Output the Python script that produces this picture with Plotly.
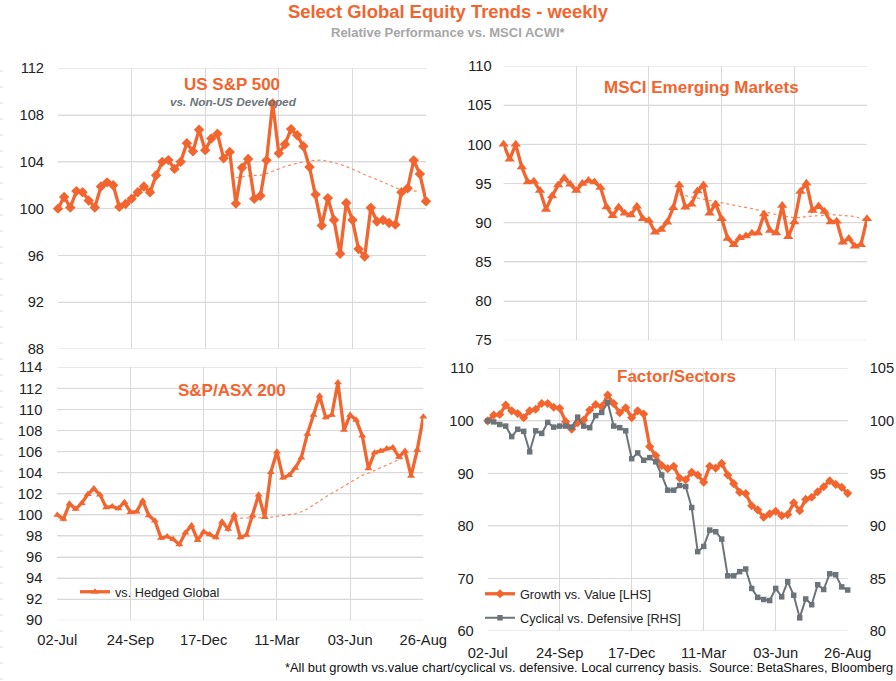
import pandas as pd
import plotly.graph_objects as go

ORANGE = '#F2652F'
GREY = '#6C747A'
GRID = '#D9D9D9'
FONT = 'Liberation Sans'
W, H = 896, 681

weeks = pd.date_range('2018-07-02', periods=61, freq='7D')
tick_weeks = weeks[::12]

sp500 = [100.0,101.0,100.1,101.5,101.4,100.7,100.1,101.9,102.25,102.0,100.15,100.4,100.85,101.4,101.9,101.4,
         102.85,104.0,104.15,103.4,104.0,105.6,104.9,106.75,105.0,106.0,106.4,104.3,104.85,100.43,103.5,104.25,
         100.85,101.1,104.13,109.0,104.73,105.5,106.8,106.27,105.33,103.56,101.2,98.55,100.9,99.03,96.15,100.48,
         99.03,96.55,95.9,100.08,98.9,99.03,98.77,98.63,101.4,101.74,104.13,102.96,100.63]
sp500_avg = [None]*29 + [102.65,102.75,102.8,102.85,102.85,103.0,103.2,103.45,103.6,103.75,103.9,104.0,104.1,104.15,
             104.15,104.05,103.95,103.8,103.6,103.4,103.15,102.9,102.7,102.5,102.3,102.05,101.8,101.6,101.55,101.5,101.55,None]

em = [100.0,98.1,100.0,97.1,95.2,95.3,94.1,91.7,93.4,94.8,95.7,94.9,94.1,95.0,95.4,95.2,94.5,92.0,90.9,92.0,91.2,
      91.0,92.1,90.5,90.3,88.8,89.15,90.05,91.9,94.8,91.97,92.35,94.05,94.8,91.2,92.4,90.5,88.0,87.2,88.1,88.3,88.65,
      88.7,91.1,89.0,88.7,92.2,88.2,90.1,94.0,95.05,91.55,92.15,91.45,90.1,90.2,87.5,88.0,87.0,87.2,90.5]
em_avg = [None]*29 + [93.6,93.45,93.3,93.1,92.95,92.85,92.7,92.55,92.4,92.3,92.15,92.0,91.8,91.6,91.4,91.2,91.05,90.9,
          90.75,90.65,90.65,90.8,90.85,90.9,91.0,91.0,91.0,90.95,90.9,90.8,90.55,90.35]

asx = [100.0,99.6,101.05,100.55,101.1,101.95,102.5,101.9,100.7,100.8,100.6,101.2,100.25,100.3,101.35,99.95,99.45,97.8,
       97.95,97.7,97.2,98.3,99.0,97.6,98.4,98.15,97.85,99.36,98.66,100.0,97.85,98.1,99.93,101.9,99.77,104.04,106.0,103.53,
       103.75,104.45,105.43,107.68,109.48,111.3,109.23,109.48,112.55,108.05,109.48,109.0,107.5,104.4,105.9,106.06,106.3,
       106.4,105.5,106.06,103.7,106.15,109.3]
asx_avg = [None]*29 + [99.68,99.68,99.7,99.7,99.72,99.74,99.78,99.85,99.95,100.0,100.1,100.3,100.55,100.95,101.35,101.7,
           102.05,102.4,102.75,103.1,103.45,103.75,103.95,104.2,104.5,104.75,105.0,105.25,105.5,None,None,None]

growth = [100.0,101.1,101.2,103.0,101.9,101.4,100.6,101.9,102.2,103.3,103.3,102.6,102.4,99.85,98.4,99.65,100.15,102.05,
          103.1,102.7,104.9,103.3,101.55,102.5,100.6,101.9,101.3,95.1,93.4,91.5,90.9,91.35,89.1,88.8,90.2,89.7,88.3,91.35,
          91.0,91.9,89.7,88.05,86.4,86.15,83.85,83.05,81.65,82.3,82.8,81.95,82.15,84.4,82.9,85.05,85.45,86.5,87.45,88.6,
          87.9,87.35,86.2]
cyclical = [100.0,99.9,99.65,99.5,98.5,99.2,99.0,97.05,99.05,98.8,99.85,99.4,99.5,99.5,99.4,100.35,99.5,99.35,100.5,100.8,
            101.75,99.5,99.35,99.05,96.4,96.95,96.25,96.5,96.1,94.85,93.4,93.4,93.85,93.75,91.75,87.55,88.05,89.6,89.45,
            88.75,85.25,85.25,85.65,85.9,84.05,83.2,83.0,82.9,84.05,83.25,84.7,83.4,81.25,83.05,82.5,84.4,83.95,85.45,
            85.35,84.2,83.9]

# plot boxes in page pixels: left, right, top, bottom
boxes = {'': (58, 426, 68.3, 349), '2': (503.6, 867, 66, 340.3),
         '3': (57.3, 423.3, 367.3, 620.3), '4': (487.7, 847.7, 368.3, 631)}
# y range and step per panel
y_scales = {'': (88, 112, 4), '2': (75, 110, 5), '3': (90, 114, 2), '4': (60, 110, 10)}
x_ticklen = {'': 6, '2': 6, '3': 6, '4': 8}
y_ticklen = {'': 10, '2': 8, '3': 11, '4': 10}


def xdom(b):
    return [b[0]/W, b[1]/W]


def ydom(b):
    return [1-b[3]/H, 1-b[2]/H]


def main_line(x, y, sym, ms, xa, ya, name=None, color=ORANGE, lw=3.3, legend=None):
    return go.Scatter(x=x, y=y, mode='lines+markers', name=name, xaxis=xa, yaxis=ya, cliponaxis=False,
                      line=dict(color=color, width=lw), marker=dict(symbol=sym, size=ms, color=color),
                      showlegend=legend is not None, legend=legend)


def avg_line(x, y, xa, ya):
    return go.Scatter(x=x, y=y, mode='lines', xaxis=xa, yaxis=ya, showlegend=False,
                      line=dict(color='#F58B63', width=1.2, dash='3px,3px'))


fig = go.Figure()
fig.add_trace(avg_line(weeks, sp500_avg, 'x', 'y'))
fig.add_trace(main_line(weeks, sp500, 'diamond', 8, 'x', 'y'))
fig.add_trace(avg_line(weeks, em_avg, 'x2', 'y2'))
fig.add_trace(main_line(weeks, em, 'triangle-up', 9, 'x2', 'y2'))
fig.add_trace(avg_line(weeks, asx_avg, 'x3', 'y3'))
fig.add_trace(main_line(weeks, asx, 'triangle-up', 7, 'x3', 'y3', name='vs. Hedged Global', legend='legend'))
fig.add_trace(main_line(weeks, growth, 'diamond', 7, 'x4', 'y4', name='Growth vs. Value [LHS]', legend='legend2'))
fig.add_trace(main_line(weeks, cyclical, 'square', 5.5, 'x4', 'y5', name='Cyclical vs. Defensive [RHS]', color=GREY,
                        lw=2, legend='legend3'))

clear = 'rgba(0,0,0,0)'
tick_font = dict(family=FONT, size=14.7, color='#222222')
axis = dict(showgrid=True, gridcolor=GRID, gridwidth=1, showline=False, zeroline=False, tickfont=tick_font,
            ticks='outside', tickcolor=clear)

for key, b in boxes.items():
    labelled = key in ('3', '4')
    lo, hi, step = y_scales[key]
    fig.update_layout({'xaxis'+key: dict(axis, domain=xdom(b), anchor='y'+key, type='date',
                                         range=[weeks[0], weeks[-1]], tickmode='array', tickvals=tick_weeks,
                                         ticktext=[d.strftime('%d-%b') for d in tick_weeks],
                                         showticklabels=labelled, ticklen=x_ticklen[key]),
                       'yaxis'+key: dict(axis, domain=ydom(b), anchor='x'+key, range=[lo, hi], dtick=step,
                                         ticklen=y_ticklen[key])})
    # horizontal rules, placed through each panel's own y axis
    for v in range(lo, hi+1, step):
        fig.add_shape(type='line', xref='x%s domain' % key, yref='y'+key, x0=0, x1=1, y0=v, y1=v,
                      line=dict(color=GRID, width=1), layer='below')

fig.update_layout(
    yaxis5=dict(axis, overlaying='y4', side='right', anchor='x4', range=[80, 105], dtick=5, showgrid=False,
                ticklen=18),
)


def label(text, x, y, size, color=ORANGE, bold=True, italic=False):
    if bold:
        text = '<b>%s</b>' % text
    if italic:
        text = '<i>%s</i>' % text
    fig.add_annotation(text=text, x=x/W, y=1-y/H, xref='paper', yref='paper', showarrow=False,
                       font=dict(family=FONT, size=size, color=color), xanchor='center', yanchor='middle')


label('Select Global Equity Trends - weekly', 448, 11, 18.4)
label('Relative Performance vs. MSCI ACWI*', 448, 32, 13, color='#A6A6A6')
label('US S&amp;P 500', 232, 85, 17)
label('vs. Non-US Developed', 233, 102, 11.8, color=GREY, italic=True)
label('MSCI Emerging Markets', 701, 87, 17)
label('S&amp;P/ASX 200', 232, 390, 17)
label('Factor/Sectors', 676, 376, 17)
label('*All but growth vs.value chart/cyclical vs. defensive. Local currency basis.  Source: BetaShares, Bloomberg',
      589, 667, 12.85, color='#111111', bold=False)

# faint ruler marks down the left edge of the page
for k in range(39):
    yp = 1-(71+16*k)/H
    fig.add_shape(type='line', xref='paper', yref='paper', x0=0, x1=3/W, y0=yp, y1=yp,
                  line=dict(color=GRID, width=1), layer='below')

legend_font = dict(family=FONT, size=12.7, color='#222222')
fig.update_layout(
    width=W, height=H, margin=dict(l=0, r=0, t=0, b=0, autoexpand=False), plot_bgcolor='white',
    paper_bgcolor='white',
    legend=dict(x=75/W, y=1-592/H, xanchor='left', yanchor='middle', font=legend_font, bgcolor=clear, itemwidth=30),
    legend2=dict(x=480/W, y=1-594/H, xanchor='left', yanchor='middle', font=legend_font, bgcolor=clear, itemwidth=30),
    legend3=dict(x=480/W, y=1-618/H, xanchor='left', yanchor='middle', font=legend_font, bgcolor=clear, itemwidth=30),
)

fig.write_html("out.html", config={'displayModeBar': False}, post_script="document.body.style.margin='0';")
